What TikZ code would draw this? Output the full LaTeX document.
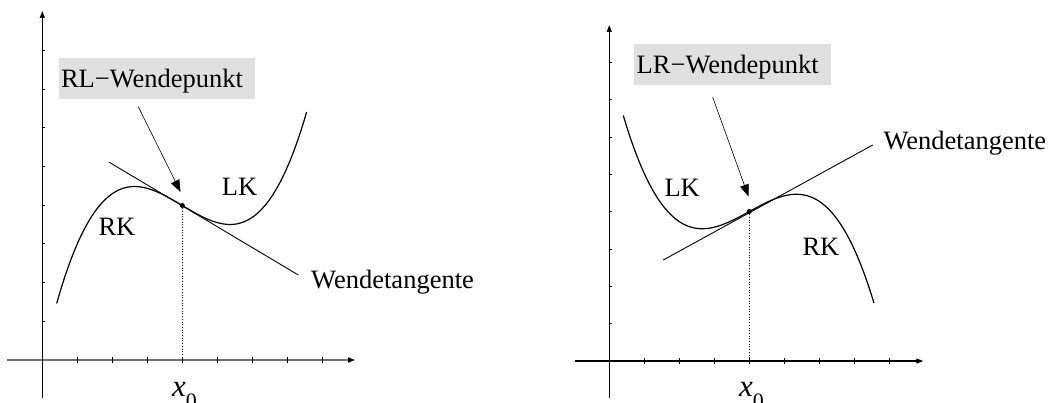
\documentclass[tikz,border=0pt]{standalone}
\usepackage{fontspec}
\setmainfont{Liberation Serif}
\usetikzlibrary{arrows.meta}
\begin{document}
\begin{tikzpicture}[x=1pt,y=-1pt,
  txt/.style={font=\fontsize{26.5}{30}\selectfont, inner sep=0pt, anchor=base west},
  xlbl/.style={font=\fontsize{31}{34}\selectfont, inner sep=0pt, anchor=base west},
  wbox/.style={font=\fontsize{26.5}{30}\selectfont, fill=black!12, anchor=north west,
    text width=191.7pt, align=left, inner xsep=2.5pt, inner ysep=0pt,
    text height=29pt, text depth=12pt},
  axisline/.style={line width=1.1pt, -{Triangle[length=7pt,width=5pt,color=black]}},
  tickline/.style={line width=0.8pt},
  curve/.style={line width=1.2pt},
  tangent/.style={line width=0.9pt},
  pointer/.style={line width=0.6pt, -{Triangle[length=12pt,width=9pt]}},
  ipdot/.style={circle, fill=black, inner sep=0pt, minimum size=5pt},
  drop/.style={dotted, line width=0.7pt}]
\useasboundingbox (0,0) rectangle (1050,403);

% ---------------- left graph ----------------
\draw[axisline, draw=black!55, line width=1.8pt] (7,360) -- (355,360);
\draw[axisline] (42.3,398) -- (42.3,11);
\foreach \k in {1,...,8} {
  \draw[tickline] ({42.3+35*\k},357) -- ({42.3+35*\k},363);
  \draw[tickline] (41.5,{360-38.7*\k}) -- (45,{360-38.7*\k});
}
\draw[tangent] (109.3,162.3) -- (298.3,275);
\draw[curve] plot[domain=-2.512:2.488, samples=120, smooth]
  ({182.3+50*\x}, {205.5 + 29.8*\x - 10.9*\x*\x*\x});
\node[ipdot] (ip1) at (182.3,205.5) {};
\coordinate (f1) at (182.3,360);
\draw[drop] (ip1) -- (f1);
\node[wbox] (b1) at (58.3,58.3) {RL−Wendepunkt};
\coordinate (a1s) at (138.3,106.7);
\coordinate (a1e) at (180.5,192);
\draw[pointer] (a1s) -- (a1e);
\node[txt] (lk1) at (221.7,196) {LK};
\node[txt] (rk1) at (98.3,235.7) {RK};
\node[txt] (wt1) at (311,289) {Wendetangente};
\node[xlbl] (x01) at (172,396) {\textit{x}\raisebox{-13pt}{\fontsize{22}{22}\selectfont 0}};

% ---------------- right graph ----------------
\draw[axisline] (575,361) -- (923.3,361);
\draw[axisline] (609.3,398) -- (609.3,25);
\foreach \k in {1,...,8} {
  \draw[tickline] ({609.3+35*\k},358) -- ({609.3+35*\k},364);
  \draw[tickline] (608.5,{361-37.3*\k}) -- (612,{361-37.3*\k});
}
\draw[tangent] (663.3,260) -- (872.7,145);
\draw[curve] plot[domain=-2.52:2.494, samples=120, smooth]
  ({749.3+50*\x}, {211.5 - 27.45*\x + 10.32*\x*\x*\x});
\node[ipdot] (ip2) at (749.3,211.5) {};
\coordinate (f2) at (749.3,361);
\draw[drop] (ip2) -- (f2);
\node[wbox] (b2) at (634,44) {LR−Wendepunkt};
\coordinate (a2s) at (712.7,97.3);
\coordinate (a2e) at (748.5,196.5);
\draw[pointer] (a2s) -- (a2e);
\node[txt] (lk2) at (664.3,197) {LK};
\node[txt] (rk2) at (802.3,255.7) {RK};
\node[txt] (wt2) at (883.3,150) {Wendetangente};
\node[xlbl] (x02) at (739,396) {\textit{x}\raisebox{-13pt}{\fontsize{22}{22}\selectfont 0}};
\end{tikzpicture}
\end{document}
